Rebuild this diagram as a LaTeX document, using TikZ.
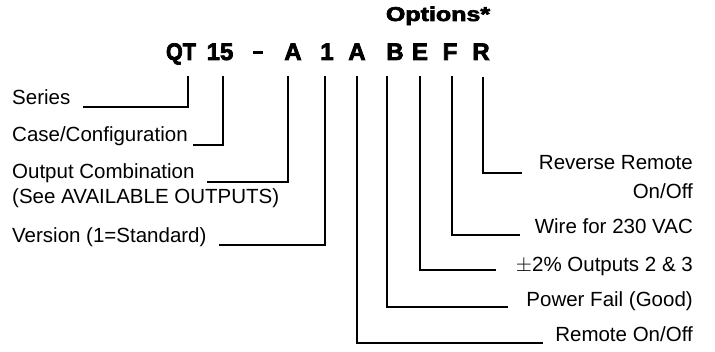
\documentclass[tikz,border=0pt]{standalone}
\usepackage{fontspec}
\setmainfont{Liberation Sans}
\newfontfamily\heavy[FakeBold=3]{Liberation Sans Bold}
\usepackage{graphicx}
\begin{document}
\begin{tikzpicture}[x=1pt,y=-1pt,
  lbl/.style={inner sep=0pt, font=\fontsize{20.5}{24}\selectfont},
  lblL/.style={lbl, anchor=base west},
  lblR/.style={lbl, anchor=base east},
  code/.style={inner sep=0pt, anchor=base, font=\heavy\fontsize{24}{28}\selectfont},
  conn/.style={line width=2.6pt, line cap=butt}]
\useasboundingbox (0,0) rectangle (715,352);
% header
\node[inner sep=0pt, anchor=base, font=\heavy\fontsize{20}{24}\selectfont] (opt) at (438,21) {\scalebox{1.25}[1]{Options*}};
\node[code] (QT) at (181,60) {\scalebox{0.9}[1]{QT}};
\node[code] (n15) at (220,60) {15};
\node[code] (dash) at (258,60) {\rule[6pt]{10pt}{3pt}};
\node[code] (cA) at (293,60) {A};
\node[code] (c1) at (327,60) {1};
\node[code] (oA) at (357,60) {A};
\node[code] (oB) at (395,60) {B};
\node[code] (oE) at (420,60) {E};
\node[code] (oF) at (450,60) {F};
\node[code] (oR) at (481,60) {R};
% left labels
\node[lblL] (series) at (12,105) {Series};
\node[lblL] (case) at (12,142) {Case/Configuration};
\node[lblL] (outc) at (12,179) {Output Combination};
\node[lblL] (see) at (12,204) {(See AVAILABLE OUTPUTS)};
\node[lblL] (ver) at (12,243) {Version (1=Standard)};
% right labels
\node[lblR] (rr) at (693,170) {Reverse Remote};
\node[lblR] (rr2) at (693,199) {On/Off};
\node[lblR] (wire) at (693,234) {Wire for 230 VAC};
\node[lblR] (pm) at (693,272) {$\pm$2\% Outputs 2 \& 3};
\node[lblR] (pf) at (693,307) {Power Fail (Good)};
\node[lblR] (rem) at (693,342) {Remote On/Off};
% connectors
\draw[conn] ([shift={(7,16)}]QT.base) |- ([shift={(12,2)}]series.base east);
\draw[conn] ([shift={(3,16)}]n15.base) |- ([shift={(5,3)}]case.base east);
\draw[conn] ([shift={(-5,16)}]cA.base) |- ([shift={(12,3)}]outc.base east);
\draw[conn] ([shift={(-2,16)}]c1.base) |- ([shift={(12,2)}]ver.base east);
\draw[conn] ([shift={(0,16)}]oA.base) |- ([shift={(-12,1)}]rem.base west);
\draw[conn] ([shift={(-8,16)}]oB.base) |- ([shift={(-18,0)}]pf.base west);
\draw[conn] ([shift={(0,16)}]oE.base) |- ([shift={(-20,-2)}]pm.base west);
\draw[conn] ([shift={(2,16)}]oF.base) |- ([shift={(-15,1)}]wire.base west);
\draw[conn] ([shift={(2,17)}]oR.base) |- ([shift={(-17,3)}]rr.base west);
\end{tikzpicture}
\end{document}
